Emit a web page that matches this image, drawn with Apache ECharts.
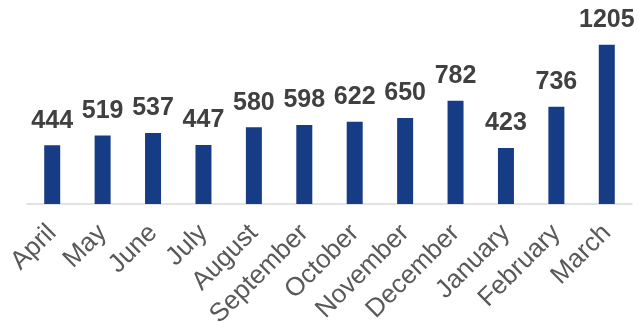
<!DOCTYPE html>
<html>
<head>
<meta charset="utf-8">
<style>
  html, body { margin: 0; padding: 0; background: #ffffff; }
  #chart { width: 638px; height: 330px; }
</style>
<script src="https://cdn.jsdelivr.net/npm/echarts@6/dist/echarts.min.js"></script>
</head>
<body>
<div id="chart"></div>
<script>
// Monthly totals, April through March
const months = ['April', 'May', 'June', 'July', 'August', 'September',
                'October', 'November', 'December', 'January', 'February', 'March'];
const totals = [444, 519, 537, 447, 580, 598, 622, 650, 782, 423, 736, 1205];

const chart = echarts.init(document.getElementById('chart'), null, { renderer: 'canvas' });

chart.setOption({
  animation: false,
  grid: {
    left: 27, right: 6, top: 19, bottom: 126,
    containLabel: false,
    outerBoundsMode: 'none'
  },
  xAxis: {
    type: 'category',
    data: months,
    axisLine: { show: true, lineStyle: { color: '#d9d9d9', width: 1.5 } },
    axisTick: { show: false },
    axisLabel: {
      rotate: 45,
      interval: 0,
      margin: 25,
      color: '#595959',
      fontFamily: 'Liberation Sans, Arial, sans-serif',
      fontSize: 26,
      hideOverlap: false
    }
  },
  yAxis: {
    type: 'value',
    min: 0,
    max: 1400,
    show: false,
    splitLine: { show: false }
  },
  series: [{
    type: 'bar',
    data: totals,
    barWidth: 16,
    itemStyle: { color: '#173c86' },
    label: {
      show: true,
      position: 'top',
      distance: 12,
      color: '#404040',
      fontWeight: 'bold',
      fontFamily: 'Liberation Sans, Arial, sans-serif',
      fontSize: 25
    }
  }]
});
</script>
</body>
</html>
